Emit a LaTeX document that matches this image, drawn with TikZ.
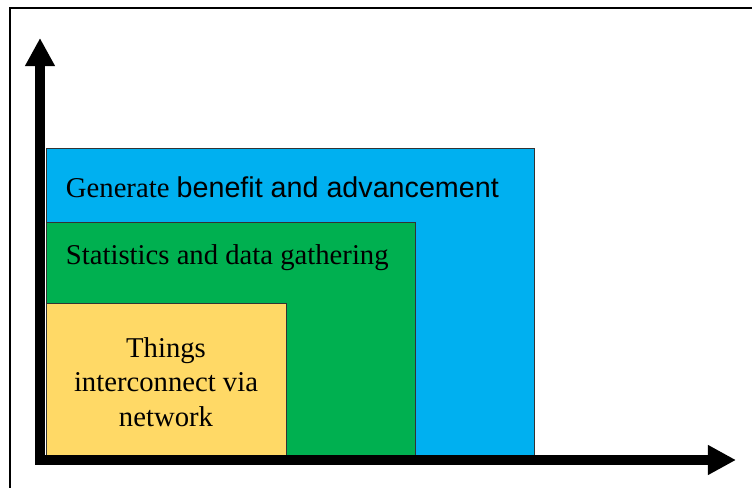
\documentclass[tikz,border=0pt]{standalone}
\usepackage{fontspec}
\setmainfont{Liberation Serif}
\newfontfamily\arialfont{Liberation Sans}
\usetikzlibrary{arrows.meta}

\definecolor{levelblue}{HTML}{00B0F0}
\definecolor{levelgreen}{HTML}{00B050}
\definecolor{levelyellow}{HTML}{FFD966}

\tikzset{
    level/.style={draw=black!80, line width=0.6pt},
    axis/.style={line width=7pt, -{Triangle[width=20pt, length=20pt]}},
    label/.style={font=\fontsize{20.4}{24.5}\selectfont}
}

\begin{document}
\begin{tikzpicture}[x=0.025cm, y=-0.025cm]
    \useasboundingbox (0,0) rectangle (752,488);
    \clip (0,0) rectangle (752,488);

    % Frame
    \draw[line width=0.8pt] (10,8) rectangle (770,500);

    % Nested levels
    \draw[level, fill=levelblue] (46,148) rectangle (534,455);
    \draw[level, fill=levelgreen] (46,222) rectangle (415,455);
    \draw[level, fill=levelyellow] (46,303) rectangle (286,455);

    \node[label, anchor=west] (benefit) at (61,187) {Generate {\arialfont benefit and advancement}};
    \node[label, anchor=west] (stats) at (61,258) {Statistics and data gathering};
    \node[label, align=center] (things) at (166,382) {Things\\interconnect via\\network};

    % Axes
    \coordinate (origin) at (40,460);
    \coordinate (ytop) at (40,38);
    \coordinate (xend) at (736,460);
    \draw[axis] ([xshift=-3.5pt]origin) -- (xend);
    \draw[axis] ([yshift=-3.5pt]origin) -- (ytop);
\end{tikzpicture}
\end{document}
